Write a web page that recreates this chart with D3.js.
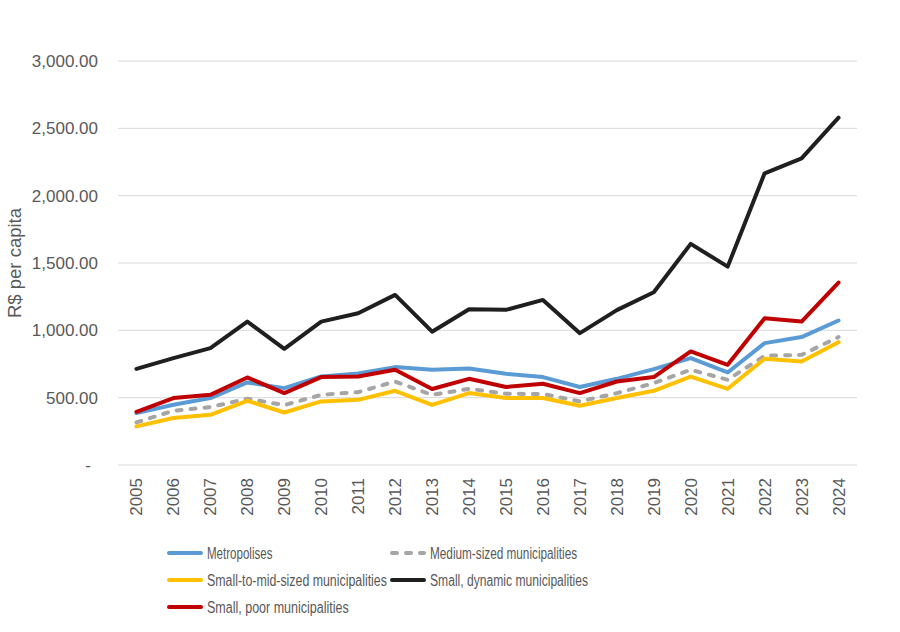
<!DOCTYPE html>
<html>
<head>
<meta charset="utf-8">
<script src="https://cdn.jsdelivr.net/npm/d3@7"></script>
<style>
  body { margin: 0; background: #fff; }
  text { font-family: "Liberation Sans", Arial, sans-serif; fill: #595959; }
</style>
</head>
<body>
<svg id="chart"></svg>
<script>
// data
var years = ['2005','2006','2007','2008','2009','2010','2011','2012','2013','2014',
             '2015','2016','2017','2018','2019','2020','2021','2022','2023','2024'];
var metropolises = [385, 447, 497, 613, 571, 657, 680, 727, 707, 717,
                    677, 653, 579, 640, 712, 794, 687, 905, 950, 1073];
var mediumSized = [316, 403, 430, 492, 445, 521, 541, 620, 521, 566,
                   529, 527, 472, 534, 608, 707, 633, 811, 818, 950];
var smallToMid = [287, 349, 373, 477, 390, 472, 484, 551, 447, 534,
                  497, 497, 440, 497, 551, 657, 566, 789, 769, 912];
var smallDynamic = [714, 794, 868, 1065, 863, 1065, 1127, 1263, 990, 1157,
                    1152, 1226, 979, 1150, 1283, 1642, 1473, 2166, 2277, 2579];
var smallPoor = [395, 497, 521, 650, 534, 653, 657, 707, 564, 640,
                 579, 603, 534, 620, 653, 843, 744, 1090, 1065, 1355];
var yTicks = [0, 500, 1000, 1500, 2000, 2500, 3000];

var series = [
  { name: 'Metropolises', values: metropolises, color: '#5B9BD5', dash: null },
  { name: 'Medium-sized municipalities', values: mediumSized, color: '#A5A5A5', dash: '5,9' },
  { name: 'Small-to-mid-sized municipalities', values: smallToMid, color: '#FFC000', dash: null },
  { name: 'Small, dynamic municipalities', values: smallDynamic, color: '#1F1F1F', dash: null },
  { name: 'Small, poor municipalities', values: smallPoor, color: '#C00000', dash: null }
];

var svgWidth = 900, svgHeight = 632;
var plotLeft = 118, plotRight = 857, plotTop = 61, plotBottom = 465;

var svg = d3.select('#chart')
    .attr('width', svgWidth)
    .attr('height', svgHeight);

var x = d3.scaleBand()
    .domain(years)
    .range([plotLeft, plotRight]);

var y = d3.scaleLinear()
    .domain([0, 3000])
    .range([plotBottom, plotTop]);

// gridlines
svg.selectAll('line.grid')
    .data(yTicks)
    .enter()
    .append('line')
    .attr('class', 'grid')
    .attr('x1', plotLeft)
    .attr('x2', plotRight)
    .attr('y1', function(d) { return y(d); })
    .attr('y2', function(d) { return y(d); })
    .attr('stroke', '#D9D9D9')
    .attr('stroke-width', 1);

// y tick labels (accounting style, zero shown as a dash)
var fmt = d3.format(',.2f');
svg.selectAll('text.ytick')
    .data(yTicks)
    .enter()
    .append('text')
    .attr('class', 'ytick')
    .attr('x', function(d) { return d === 0 ? 91 : 98; })
    .attr('y', function(d) { return y(d) + 6; })
    .attr('text-anchor', 'end')
    .style('font-size', '17px')
    .text(function(d) { return d === 0 ? '-' : fmt(d); });

// x tick labels, rotated
svg.selectAll('text.xtick')
    .data(years)
    .enter()
    .append('text')
    .attr('class', 'xtick')
    .attr('transform', function(d) {
        var cx = x(d) + x.bandwidth() / 2 + 6;
        return 'translate(' + cx + ',478) rotate(-90)';
    })
    .attr('text-anchor', 'end')
    .style('font-size', '17px')
    .text(function(d) { return d; });

// y axis title
svg.append('text')
    .attr('transform', 'translate(21,263) rotate(-90)')
    .attr('text-anchor', 'middle')
    .style('font-size', '18.5px')
    .text('R$ per capita');

// lines
var line = d3.line()
    .x(function(d, i) { return x(years[i]) + x.bandwidth() / 2; })
    .y(function(d) { return y(d); });

svg.selectAll('path.series')
    .data(series)
    .enter()
    .append('path')
    .attr('class', 'series')
    .attr('d', function(d) { return line(d.values); })
    .attr('fill', 'none')
    .attr('stroke', function(d) { return d.color; })
    .attr('stroke-width', 4)
    .attr('stroke-linejoin', 'round')
    .attr('stroke-linecap', 'round')
    .attr('stroke-dasharray', function(d) { return d.dash; });

// legend
var legendPos = [
  { x: 167, y: 553 }, { x: 390, y: 553 },
  { x: 167, y: 580 }, { x: 390, y: 580 },
  { x: 167, y: 607 }
];

var legend = svg.selectAll('g.legend')
    .data(series)
    .enter()
    .append('g')
    .attr('class', 'legend')
    .attr('transform', function(d, i) {
        return 'translate(' + legendPos[i].x + ',' + legendPos[i].y + ')';
    });

legend.append('line')
    .attr('x1', 2)
    .attr('x2', 34)
    .attr('y1', 0)
    .attr('y2', 0)
    .attr('stroke', function(d) { return d.color; })
    .attr('stroke-width', 4)
    .attr('stroke-linecap', 'round')
    .attr('stroke-dasharray', function(d) { return d.dash; });

legend.append('text')
    .attr('x', 40)
    .attr('y', 6)
    .style('font-size', '16px')
    .attr('textLength', function(d) { return d.name.length * 5.45; })
    .attr('lengthAdjust', 'spacingAndGlyphs')
    .text(function(d) { return d.name; });
</script>
</body>
</html>
